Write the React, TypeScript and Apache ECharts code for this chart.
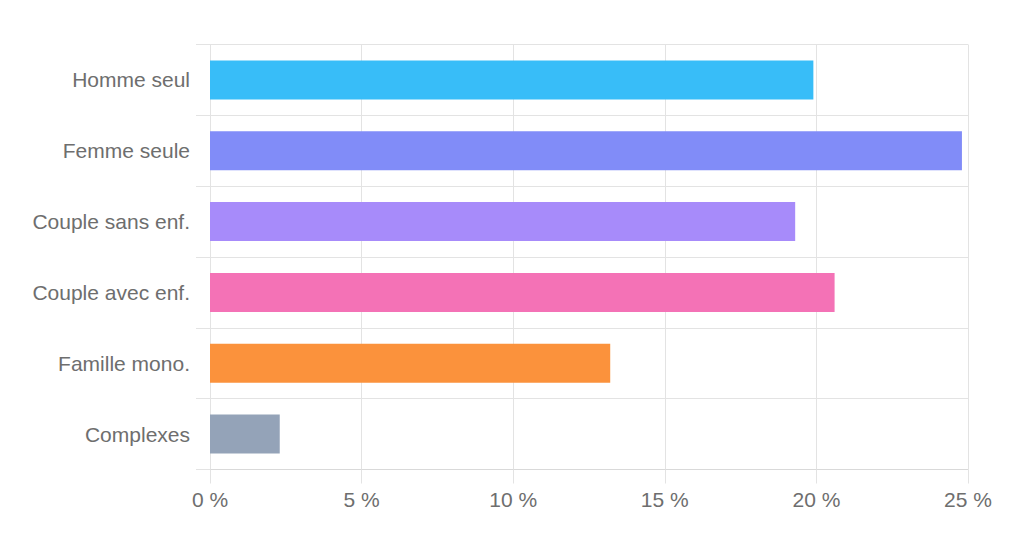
import React, { useEffect, useRef } from "react";
import * as echarts from "echarts";

// Household types and their share (%)
const categories = [
  "Homme seul",
  "Femme seule",
  "Couple sans enf.",
  "Couple avec enf.",
  "Famille mono.",
  "Complexes",
];
const shares = [19.9, 24.8, 19.3, 20.6, 13.2, 2.3];
const barColors = ["#38bdf8", "#818cf8", "#a78bfa", "#f472b6", "#fb923c", "#94a3b8"];
const axisMax = 25;
const axisStep = 5;

const FONT = "'Liberation Sans', Arial, Helvetica, sans-serif";
const GRID_COLOR = "#e3e3e3";
const TEXT_COLOR = "#6e6e6e";

export default function App() {
  const ref = useRef<HTMLDivElement>(null);

  useEffect(() => {
    if (!ref.current) return;
    const chart = echarts.init(ref.current, undefined, { renderer: "svg" });
    chart.setOption({
      animation: false,
      backgroundColor: "#ffffff",
      grid: { left: 210, right: 56, top: 44.5, bottom: 77.5, containLabel: false },
      xAxis: {
        type: "value",
        min: 0,
        max: axisMax,
        interval: axisStep,
        axisLine: { show: true, lineStyle: { color: "#d9d9d9", width: 1 } },
        axisTick: { show: true, length: 14, lineStyle: { color: GRID_COLOR } },
        splitLine: { show: true, lineStyle: { color: GRID_COLOR, width: 1 } },
        axisLabel: {
          formatter: "{value} %",
          color: TEXT_COLOR,
          fontFamily: FONT,
          fontSize: 21,
          margin: 19,
        },
      },
      yAxis: {
        type: "category",
        data: categories,
        inverse: true,
        axisLine: { show: true, lineStyle: { color: GRID_COLOR, width: 1 } },
        axisTick: { show: true, length: 14, alignWithLabel: false, lineStyle: { color: GRID_COLOR } },
        splitLine: { show: true, lineStyle: { color: GRID_COLOR, width: 1 } },
        axisLabel: {
          color: TEXT_COLOR,
          fontFamily: FONT,
          fontSize: 21,
          margin: 20,
          padding: [0, 0, 3, 0],
        },
      },
      series: [
        {
          type: "bar",
          barWidth: "55%",
          data: shares.map((v, i) => ({ value: v, itemStyle: { color: barColors[i] } })),
        },
      ],
    });
    return () => chart.dispose();
  }, []);

  return (
    <div
      ref={ref}
      style={{ position: "fixed", left: 0, top: 0, width: 1024, height: 547, background: "#fff" }}
    />
  );
}
